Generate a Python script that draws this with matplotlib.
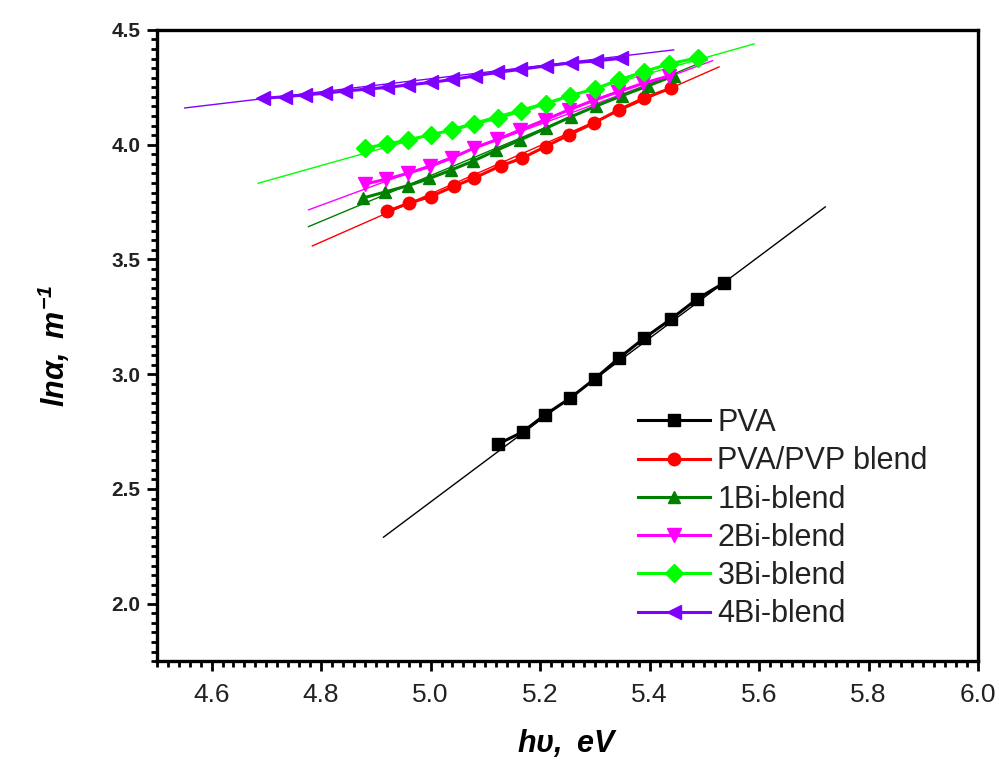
import matplotlib
matplotlib.use("Agg")
import matplotlib.pyplot as plt
from matplotlib.ticker import MultipleLocator, AutoMinorLocator

plt.rcParams['font.family'] = ['Liberation Sans', 'DejaVu Sans']
plt.rcParams['mathtext.fontset'] = 'custom'
plt.rcParams['mathtext.rm'] = 'Liberation Sans:italic:bold'
plt.rcParams['mathtext.it'] = 'Liberation Sans:italic:bold'
plt.rcParams['mathtext.bf'] = 'Liberation Sans:italic:bold'

# measured points (photon energy, ln alpha)
pva_x = [5.124, 5.168, 5.209, 5.255, 5.300, 5.344, 5.390, 5.439, 5.487, 5.536]
pva_y = [2.697, 2.748, 2.823, 2.896, 2.980, 3.070, 3.157, 3.240, 3.328, 3.398]

pvp_x = [4.920, 4.960, 5.000, 5.042, 5.079, 5.128, 5.167, 5.210, 5.253, 5.298, 5.344, 5.390, 5.439]
pvp_y = [3.709, 3.745, 3.774, 3.818, 3.854, 3.908, 3.941, 3.992, 4.043, 4.094, 4.152, 4.203, 4.246]

bi1_x = [4.877, 4.917, 4.958, 4.998, 5.038, 5.078, 5.120, 5.164, 5.210, 5.256, 5.303, 5.349, 5.397, 5.444]
bi1_y = [3.768, 3.794, 3.821, 3.853, 3.890, 3.929, 3.975, 4.021, 4.071, 4.121, 4.169, 4.213, 4.256, 4.300]

bi2_x = [4.881, 4.918, 4.958, 4.999, 5.040, 5.080, 5.122, 5.164, 5.209, 5.253, 5.296, 5.342, 5.388, 5.436]
bi2_y = [3.829, 3.849, 3.875, 3.905, 3.943, 3.986, 4.023, 4.064, 4.108, 4.152, 4.191, 4.230, 4.267, 4.300]

bi3_x = [4.881, 4.921, 4.959, 5.000, 5.040, 5.080, 5.124, 5.166, 5.210, 5.254, 5.300, 5.344, 5.389, 5.435, 5.488]
bi3_y = [3.986, 4.003, 4.021, 4.043, 4.064, 4.091, 4.117, 4.147, 4.178, 4.213, 4.243, 4.282, 4.317, 4.352, 4.378]

bi4_x = [4.694, 4.734, 4.771, 4.807, 4.844, 4.884, 4.921, 4.959, 5.000, 5.040, 5.082, 5.122,
         5.164, 5.210, 5.256, 5.302, 5.347]
bi4_y = [4.202, 4.209, 4.217, 4.224, 4.234, 4.242, 4.250, 4.260, 4.271, 4.284, 4.300, 4.315,
         4.328, 4.343, 4.356, 4.365, 4.376]

# linear fit lines (start and end points)
fit_x = [[4.914, 5.721], [4.784, 5.527], [4.777, 5.505], [4.777, 5.515], [4.685, 5.591], [4.551, 5.444]]
fit_y = [[2.290, 3.729], [3.559, 4.339], [3.643, 4.369], [3.716, 4.366], [3.832, 4.439], [4.160, 4.413]]

labels = ['PVA', 'PVA/PVP blend', '1Bi-blend', '2Bi-blend', '3Bi-blend', '4Bi-blend']
colors = ['black', '#ff0000', '#008000', '#ff00ff', '#00ff00', '#8000ff']
markers = ['s', 'o', '^', 'v', 'D', '<']
sizes = [9, 9, 9, 10, 9, 10]

xs = [pva_x, pvp_x, bi1_x, bi2_x, bi3_x, bi4_x]
ys = [pva_y, pvp_y, bi1_y, bi2_y, bi3_y, bi4_y]

fig = plt.figure(figsize=(9.99, 7.67), dpi=100)
ax = fig.add_axes([0.157, 0.138, 0.822, 0.823])

for i in range(6):
    ax.plot(fit_x[i], fit_y[i], color=colors[i], lw=1.0, zorder=2)
for i in range(6):
    ax.plot(xs[i], ys[i], color=colors[i], marker=markers[i], ms=sizes[i], lw=2.2,
            label=labels[i], zorder=3)

ax.set_xlim(4.5, 6.0)
ax.set_ylim(1.75, 4.5)
ax.xaxis.set_major_locator(MultipleLocator(0.2))
ax.xaxis.set_minor_locator(AutoMinorLocator(10))
ax.yaxis.set_major_locator(MultipleLocator(0.5))
ax.yaxis.set_minor_locator(AutoMinorLocator(12))
ax.xaxis.set_major_formatter(plt.FormatStrFormatter('%.1f'))
ax.yaxis.set_major_formatter(plt.FormatStrFormatter('%.1f'))

for s in ax.spines.values():
    s.set_linewidth(2.4)
ax.tick_params(which='both', direction='out', width=2.0, top=False, right=False)
ax.tick_params(which='major', length=7)
ax.tick_params(which='minor', length=4.5)
ax.tick_params(axis='x', which='major', pad=9)
ax.tick_params(axis='y', which='major', pad=5)

for t in ax.get_xticklabels():
    t.set_fontsize(19)
    t.set_color('#222222')
for t in ax.get_yticklabels():
    t.set_fontsize(15)
    t.set_fontweight('bold')
    t.set_color('#222222')

ax.set_xlabel(r'$h\upsilon,\ eV$', fontsize=22, labelpad=14)
ax.set_ylabel(r'$ln\alpha,\ m^{-1}$', fontsize=22, labelpad=28)

ax.legend(loc='upper left', bbox_to_anchor=(0.586, 0.401), frameon=False,
          fontsize=22, handlelength=2.35, handletextpad=0.25, labelspacing=0.27,
          borderpad=0, borderaxespad=0, labelcolor='#222222')

fig.savefig('out.png', dpi=100)
